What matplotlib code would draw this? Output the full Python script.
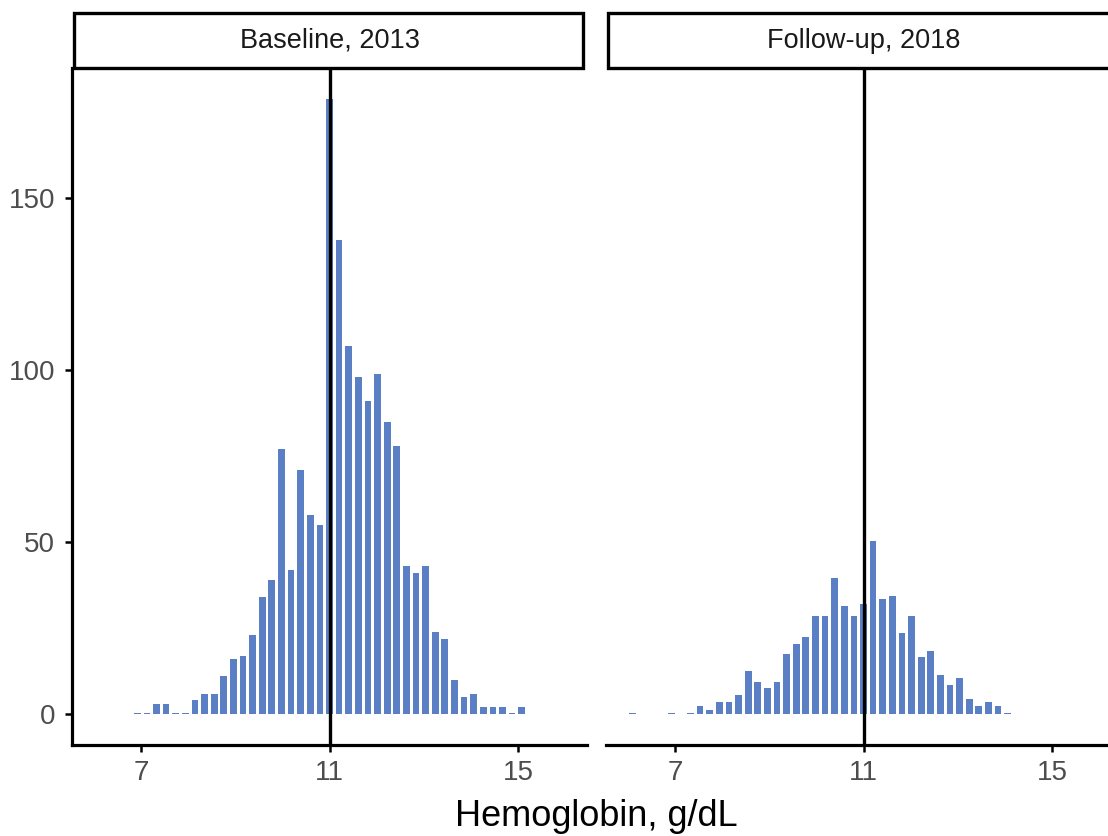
import numpy as np
import matplotlib.pyplot as plt
from matplotlib.patches import Rectangle

plt.rcParams['font.family'] = ['Liberation Sans', 'DejaVu Sans']

# bin width (g/dL) and counts per bin, bins are anchored so one bin is centred at 11
bin_width = 0.204
panel_titles = ['Baseline, 2013', 'Follow-up, 2018']
cutoff = 11

# Baseline 2013: 41 bins, bin index 20 is centred at 11
baseline_counts = [0.5, 0.5, 3, 3, 0.5, 0.5, 4, 6, 6, 11, 16, 17, 23, 34, 39, 77, 42, 71,
                   58, 55, 179, 138, 107, 98, 91, 99, 85, 78, 43, 41, 43, 24, 22, 10, 5,
                   6, 2, 2, 2, 0.5, 2]
baseline_center_idx = 20

# Follow-up 2018: 40 bins, bin index 24 is centred at 11
followup_counts = [0.4, 0, 0, 0, 0.4, 0, 0.4, 2.5, 1.3, 3.5, 3.5, 5.5, 12.5, 9.5, 7.5, 9.5,
                   17.5, 20.5, 22.5, 28.5, 28.5, 39.5, 31.5, 28.5, 32, 50.5, 33.5, 34.5,
                   23.5, 28.5, 16.5, 18.5, 11.5, 8.5, 10.5, 4.5, 2.5, 3.5, 2.5, 0.4]
followup_center_idx = 24

xticks = [7, 11, 15]
yticks = [0, 50, 100, 150]

bar_color = '#5a7fc4'
tick_gray = '#4d4d4d'

fig = plt.figure(figsize=(11.08, 8.36), dpi=100)
W, H = 1108, 836

ax_w = 515 / W
ax_b = (H - 745) / H
ax_h = 677 / H
ax1 = fig.add_axes([72 / W, ax_b, ax_w, ax_h])
ax2 = fig.add_axes([606 / W, ax_b, ax_w, ax_h])

panels = [(ax1, baseline_counts, baseline_center_idx),
          (ax2, followup_counts, followup_center_idx)]

for i, (ax, counts, cidx) in enumerate(panels):
    counts = np.array(counts)
    centers = cutoff + bin_width * (np.arange(len(counts)) - cidx)
    ax.bar(centers, counts, width=bin_width * 0.7, color=bar_color, linewidth=0)
    ax.axvline(cutoff, color='black', linewidth=2.4, zorder=3)
    ax.set_xlim(5.535, 16.465)
    ax.set_ylim(-8.95, 187.95)
    ax.set_xticks(xticks)
    ax.set_xticklabels([str(t) for t in xticks])
    for s in ['top', 'right']:
        ax.spines[s].set_visible(False)
    ax.spines['bottom'].set_linewidth(2.3)
    ax.tick_params(axis='x', length=5, width=1.8, colors='black',
                   labelcolor=tick_gray, labelsize=20, pad=6)
    if i == 0:
        ax.spines['left'].set_linewidth(2.3)
        ax.set_yticks(yticks)
        ax.tick_params(axis='y', length=5, width=1.8, colors='black',
                       labelcolor=tick_gray, labelsize=20, pad=7)
    else:
        ax.spines['left'].set_visible(False)
        ax.set_yticks([])
    # facet strip
    strip_h = 55 / 677
    ax.add_patch(Rectangle((0.003, 1.0), 0.99, strip_h, transform=ax.transAxes,
                           facecolor='white', edgecolor='black', linewidth=2.4,
                           clip_on=False))
    ax.text(0.5, 1.0 + strip_h / 2, panel_titles[i], transform=ax.transAxes,
            ha='center', va='center', fontsize=19.5, color='#1a1a1a')

fig.text(596 / W, (H - 816) / H, 'Hemoglobin, g/dL', ha='center', va='center',
         fontsize=26, color='black')

fig.savefig('out.png', dpi=100, facecolor='white')
